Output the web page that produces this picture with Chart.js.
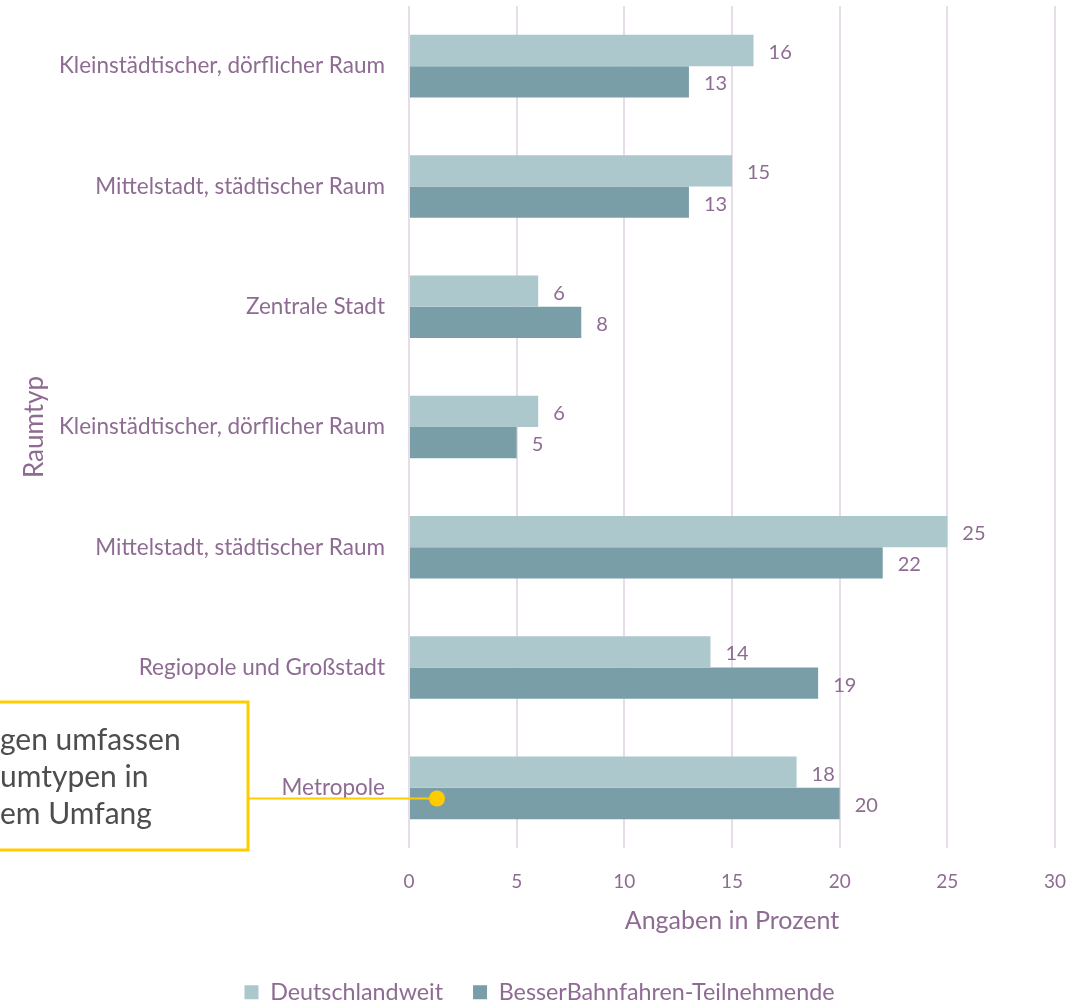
<!DOCTYPE html>
<html>
<head>
    <title>Raumtyp</title>
    <script src="https://cdn.jsdelivr.net/npm/chart.js"></script>
    <style>
        body { margin: 0; background: #fff; }
        #wrap { width: 1071px; height: 1001px; }
    </style>
</head>
<body>
    <div id="wrap">
        <canvas id="chart" width="1071" height="1001"></canvas>
    </div>

    <script>
        // Raumtypen von oben nach unten
        const categories = [
            'Kleinstädtischer, dörflicher Raum',
            'Mittelstadt, städtischer Raum',
            'Zentrale Stadt',
            'Kleinstädtischer, dörflicher Raum',
            'Mittelstadt, städtischer Raum',
            'Regiopole und Großstadt',
            'Metropole'
        ];
        const deutschlandweit = [16, 15, 6, 6, 25, 14, 18];
        const teilnehmende = [13, 13, 8, 5, 22, 19, 20];
        const xTicks = [0, 5, 10, 15, 20, 25, 30];

        // Hinweistext (links angeschnitten)
        const noteLines = ['gen umfassen', 'umtypen in', 'em Umfang'];

        const purple = '#8e6b92';
        const fontFamily = 'Lato, "Open Sans", sans-serif';
        const plotBottom = 848;
        const padBottom = -13;

        // Werte rechts neben die Balken schreiben
        const valueLabels = {
            id: 'valueLabels',
            afterDatasetsDraw(chart) {
                const ctx = chart.ctx;
                ctx.save();
                ctx.fillStyle = purple;
                ctx.font = '20px ' + fontFamily;
                ctx.textAlign = 'left';
                ctx.textBaseline = 'middle';
                chart.data.datasets.forEach((ds, i) => {
                    chart.getDatasetMeta(i).data.forEach((bar, j) => {
                        ctx.fillText(ds.data[j], bar.x + 15, bar.y + 2);
                    });
                });
                ctx.restore();
            }
        };

        // Legende etwas nach rechts rücken
        const legendShift = {
            id: 'legendShift',
            afterLayout(chart) {
                chart.legend.left += 12;
                chart.legend.right += 12;
            }
        };

        // Gelber Hinweiskasten mit Verbindungslinie zum Balken "Metropole"
        const noteBox = {
            id: 'noteBox',
            afterDraw(chart) {
                const ctx = chart.ctx;
                const x = chart.scales.x;
                const bar = chart.getDatasetMeta(1).data[categories.length - 1];
                const dotX = x.getPixelForValue(1.3);
                const dotY = bar.y - 5;
                const boxRight = 248, boxTop = 702, boxBottom = 850;

                ctx.save();
                ctx.strokeStyle = '#ffcc00';
                ctx.lineWidth = 3;
                ctx.strokeRect(-10, boxTop, boxRight + 10, boxBottom - boxTop);

                ctx.lineWidth = 2;
                ctx.beginPath();
                ctx.moveTo(boxRight, dotY);
                ctx.lineTo(dotX, dotY);
                ctx.stroke();

                ctx.fillStyle = '#ffcc00';
                ctx.beginPath();
                ctx.arc(dotX, dotY, 8, 0, Math.PI * 2);
                ctx.fill();

                ctx.fillStyle = '#4d4d4d';
                ctx.font = '30px ' + fontFamily;
                ctx.textAlign = 'left';
                ctx.textBaseline = 'middle';
                noteLines.forEach((t, i) => {
                    ctx.fillText(t, 0, 740 + i * 37);
                });
                ctx.restore();
            }
        };

        const ctx = document.getElementById('chart').getContext('2d');
        const chart = new Chart(ctx, {
            type: 'bar',
            data: {
                labels: categories,
                datasets: [
                    {
                        label: 'Deutschlandweit',
                        data: deutschlandweit,
                        backgroundColor: '#adc8cd',
                        categoryPercentage: 0.52,
                        barPercentage: 1
                    },
                    {
                        label: 'BesserBahnfahren-Teilnehmende',
                        data: teilnehmende,
                        backgroundColor: '#799ea8',
                        categoryPercentage: 0.52,
                        barPercentage: 1
                    }
                ]
            },
            options: {
                indexAxis: 'y',
                responsive: false,
                animation: false,
                layout: {
                    padding: { left: 0, right: 16, top: 6, bottom: padBottom }
                },
                plugins: {
                    tooltip: { enabled: false },
                    legend: {
                        position: 'bottom',
                        labels: {
                            color: purple,
                            font: { family: fontFamily, size: 23.3 },
                            boxWidth: 14,
                            boxHeight: 14,
                            padding: 30
                        }
                    }
                },
                scales: {
                    x: {
                        min: 0,
                        max: 30,
                        afterBuildTicks(scale) {
                            scale.ticks = xTicks.map(v => ({ value: v }));
                        },
                        afterFit(scale) {
                            const legend = scale.chart.legend;
                            scale.height = scale.chart.height - padBottom - legend.height - plotBottom;
                            scale.paddingLeft = 0;
                            scale.paddingRight = 0;
                        },
                        grid: {
                            color: '#e6dde9',
                            lineWidth: 2,
                            drawTicks: false
                        },
                        border: { display: false },
                        ticks: {
                            color: purple,
                            font: { family: fontFamily, size: 19 },
                            padding: 22
                        },
                        title: {
                            display: true,
                            text: 'Angaben in Prozent',
                            color: purple,
                            font: { family: fontFamily, size: 25 },
                            padding: { top: 0, bottom: 15 }
                        }
                    },
                    y: {
                        afterFit(scale) {
                            scale.width = 409;
                            scale.paddingTop = 0;
                            scale.paddingBottom = 0;
                        },
                        grid: { display: false, drawTicks: false },
                        border: { display: false },
                        ticks: {
                            color: purple,
                            font: { family: fontFamily, size: 22.5 },
                            padding: 24
                        },
                        title: {
                            display: true,
                            text: 'Raumtyp',
                            color: purple,
                            font: { family: fontFamily, size: 26 },
                            padding: { top: 19, bottom: 0 }
                        }
                    }
                }
            },
            plugins: [valueLabels, legendShift, noteBox]
        });
    </script>
</body>
</html>
